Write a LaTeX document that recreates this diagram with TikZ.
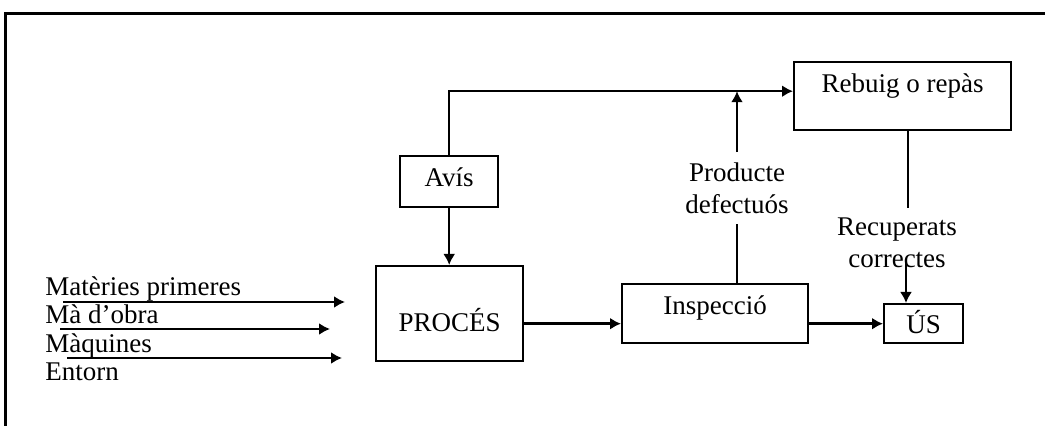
\documentclass[tikz,border=0pt]{standalone}
\usepackage{fontspec}
\setmainfont{Liberation Serif}
\usetikzlibrary{arrows.meta}
\begin{document}
\begin{tikzpicture}[x=0.5pt,y=-0.5pt,
  every node/.style={font=\fontsize{13.5}{16}\selectfont},
  box/.style={draw,line width=1.2pt,inner sep=0pt,anchor=north west},
  lbl/.style={inner sep=0pt,anchor=base west},
  conn/.style={line width=1.2pt},
  arr/.style={conn,-{Latex[length=5.5pt,width=6pt]}},
]
\useasboundingbox (0,0) rectangle (1045,426);

% outer frame (top and left edges only)
\draw[line width=1.5pt] (5,426) -- (5,14) -- (1045,14);

% blocks
\node[box,minimum width=108.5pt,text height=15pt,text depth=19pt] (reb) at (793,61) {Rebuig o repàs};
\node[box,minimum width=49pt,text height=15pt,text depth=10.5pt] (avis) at (399,155) {Avís};
\node[box,minimum width=73.5pt,text height=32.5pt,text depth=15pt] (proc) at (375,265) {PROCÉS};
\node[box,minimum width=93pt,text height=15pt,text depth=14.5pt] (insp) at (621,283) {Inspecció};
\node[box,minimum width=39.5pt,text height=14.5pt,text depth=5pt] (us) at (883,303) {ÚS};

% inputs
\node[lbl] (mat) at (45,296) {Matèries primeres};
\node[lbl] (ma) at (45,324) {Mà d’obra};
\node[lbl] (maq) at (45,353) {Màquines};
\node[lbl] (ent) at (45,381) {Entorn};
\draw[arr] ([shift={(18,6)}]mat.base west) -- ++(282,0);
\draw[arr] ([shift={(15,5)}]ma.base west) -- ++(270,0);
\draw[arr] ([shift={(22,5)}]maq.base west) -- ++(275,0);

% connector labels
\node[align=center,inner sep=5pt] (pd) at (737,188) {Producte\\defectuós};
\node[align=center,inner sep=4.5pt] (rec) at (897,243) {Recuperats\\correctes};
\coordinate (rdown) at (908,208);
\coordinate (rin) at (906,263);
\coordinate (fb) at ([yshift=2.5pt]reb.west);

% connectors
\draw[arr] (avis.north) |- (fb);
\draw[arr] (avis.south) -- (proc.north -| avis.south);
\draw[arr] (proc.east |- us.west) -- (insp.west |- us.west);
\draw[arr] (insp.east |- us.west) -- (us.west);
\draw[conn] (pd.south |- insp.north) -- (pd.south);
\draw[arr] (pd.north) -- (pd.north |- fb);
\draw[conn] (reb.south -| rdown) -- (rdown);
\draw[arr] (rin) -- (rin |- us.north);
\end{tikzpicture}
\end{document}
